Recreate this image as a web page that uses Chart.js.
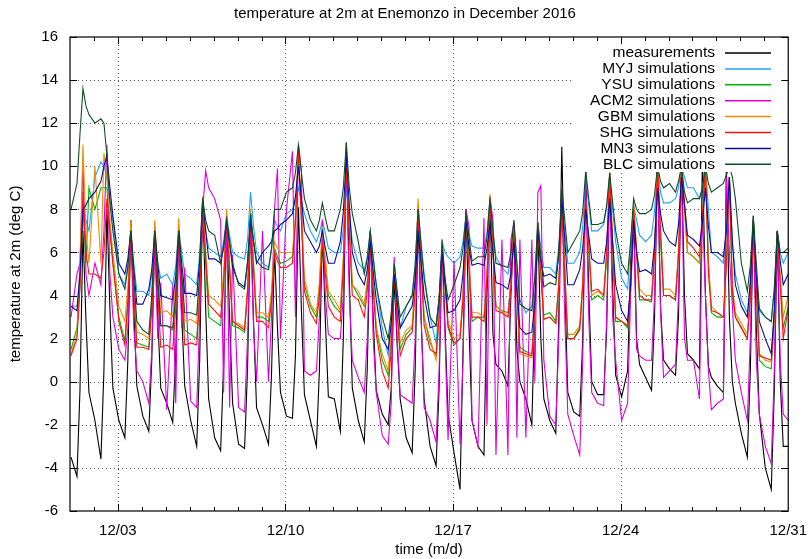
<!DOCTYPE html>
<html>
<head>
<meta charset="utf-8">
<script src="https://cdn.jsdelivr.net/npm/chart.js@4.4.1/dist/chart.umd.min.js"></script>
<style>
  html, body { margin: 0; padding: 0; background: #fff; }
  #wrap { width: 810px; height: 559px; }
</style>
</head>
<body>
<div id="wrap"><canvas id="myChart" width="810" height="559"></canvas></div>
<script>
// time axis: hours since 12/01 00:00, six samples per day
const sampleHours = [1, 7, 10, 13, 16, 19];
const xTickHours = [48, 216, 384, 552, 720];
const xTickLabels = ['12/03', '12/10', '12/17', '12/24', '12/31'];
const yTickValues = [-6, -4, -2, 0, 2, 4, 6, 8, 10, 12, 14, 16];

const seriesNames = ['measurements', 'MYJ simulations', 'YSU simulations', 'ACM2 simulations',
  'GBM simulations', 'SHG simulations', 'MN3 simulations', 'BLC simulations'];
const seriesColors = ['#000000', '#1ca3ff', '#00b400', '#dd00dd', '#f08c00', '#ff1010', '#0a0aa0', '#0d4f22'];

// values per day at 01h, 07h, 10h, 13h, 16h, 19h (12/01 ... 12/30); last value = 12/31 00h
const meas = [
  -3.5, -4.4, -0.4, 7.0, 2.9, -0.5,   -1.8, -3.6, 0.5, 8.0, 3.4, -0.3,   -1.8, -2.6, 1.0, 7.5, 3.3, -0.2,
  -1.6, -2.3, 1.0, 7.1, 3.0, -0.3,    -1.0, -1.9, 1.3, 7.1, 3.1, -0.2,   -1.8, -3.0, 1.0, 8.6, 3.4, -0.8,
  -2.6, -3.2, 0.8, 7.7, 2.9, -1.0,    -2.9, -3.1, 0.6, 7.8, 2.8, -1.2,   -2.0, -2.9, 0.3, 6.2, 2.5, -0.5,
  -1.6, -1.7, 1.2, 8.1, 3.3, -0.6,    -1.8, -3.0, 0.5, 7.0, 2.8, -0.7,   -0.8, -2.3, 2.0, 11.1, 4.8, -0.3,
  -1.8, -2.8, 0.6, 7.0, 2.9, -0.4,    -1.5, -2.0, -0.3, 4.8, 1.7, -0.8,  -2.6, -3.3, 0.5, 7.5, 2.9, -0.8,
  -3.0, -3.9, -0.3, 6.6, 2.5, -1.5,   -3.3, -5.0, 1.5, 8.0, 2.5, -1.8,   -3.0, -3.4, 4.0, 8.6, 2.2, 0.8,
  0.5, -0.2, 4.0, 7.2, 1.5, 0.0,      -0.8, -2.0, 3.5, 7.2, 2.0, -0.8,   -1.8, -2.4, 3.0, 10.9, 4.5, -0.5,
  -1.4, -1.6, 2.0, 9.8, 4.3, 0.0,     -0.6, -0.6, 2.5, 9.5, 4.4, 0.3,    -0.7, 0.5, 5.5, 8.2, 2.0, 0.8,
  0.2, -0.4, 3.0, 10.5, 3.5, 1.0,     0.6, 0.3, 3.0, 10.5, 4.0, 1.3,     1.0, 0.6, 10.5, 4.0, 0.7, 0.2,
  -0.2, -0.5, 10.0, 3.0, 0.0, -1.0,   -2.4, -3.5, 0.5, 7.7, 2.5, -1.5,   -4.0, -5.0, -0.5, 7.0, 0.0, -3.0,
  -3.0
];
const myj = [
  3.5, 3.5, 5.1, 8.0, 7.5, 7.0,    9.5, 10.2, 10.0, 9.5, 8.5, 7.5,  5.0, 4.5, 5.4, 7.0, 5.5, 4.2,
  4.2, 4.0, 5.0, 7.0, 5.5, 4.8,    5.0, 4.5, 5.4, 7.1, 6.0, 5.0,    4.8, 4.5, 5.9, 8.5, 7.0, 6.2,
  6.0, 5.8, 6.5, 7.7, 6.8, 6.0,    5.8, 5.7, 6.6, 8.8, 7.2, 6.0,    5.5, 5.3, 6.1, 7.5, 7.2, 7.0,
  7.8, 8.0, 8.4, 9.0, 8.4, 7.8,    7.0, 6.5, 6.9, 7.5, 6.9, 6.2,    6.0, 6.0, 7.1, 9.0, 7.8, 6.5,
  5.5, 5.2, 5.8, 7.0, 5.8, 4.5,    2.5, 1.2, 2.7, 5.5, 4.0, 2.5,    3.5, 4.0, 5.4, 8.0, 6.5, 5.0,
  3.0, 1.8, 3.5, 6.5, 6.0, 5.8,    5.5, 5.8, 6.5, 7.7, 6.8, 6.3,    6.2, 6.2, 6.9, 8.5, 7.0, 5.8,
  5.3, 5.0, 5.8, 7.4, 5.5, 3.8,    3.2, 3.5, 5.0, 7.4, 6.2, 5.3,    5.3, 5.0, 6.3, 8.5, 7.0, 5.5,
  5.5, 6.0, 7.2, 9.5, 8.2, 7.0,    7.0, 7.3, 8.1, 9.5, 8.0, 6.5,    4.8, 4.3, 6.5, 8.2, 7.5, 6.8,
  6.5, 6.8, 7.9, 10.0, 8.8, 8.3,   8.3, 8.5, 9.0, 10.0, 9.5, 9.0,   9.0, 8.5, 9.0, 10.0, 8.0, 6.0,
  5.8, 5.5, 7.0, 9.5, 6.5, 5.0,    3.8, 3.2, 4.7, 7.5, 5.0, 3.3,    3.0, 2.8, 4.3, 7.0, 6.0, 5.5,
  6.0
];
const ysu = [
  1.5, 2.5, 4.4, 8.0, 5.5, 9.0,    8.0, 9.0, 9.0, 9.0, 7.2, 5.5,    3.0, 1.9, 3.8, 7.2, 4.2, 1.8,
  1.7, 1.6, 3.6, 7.2, 4.5, 2.6,    2.6, 2.4, 4.0, 7.1, 4.6, 2.4,    2.2, 2.0, 4.2, 8.3, 5.5, 3.0,
  2.8, 2.6, 4.4, 7.6, 5.2, 2.6,    2.5, 2.3, 4.2, 7.8, 5.3, 3.0,    3.0, 2.8, 4.0, 6.2, 5.8, 5.5,
  5.6, 5.8, 7.4, 10.5, 7.5, 4.5,   3.5, 3.0, 4.4, 7.0, 5.5, 4.0,    3.5, 3.2, 5.5, 10.0, 7.2, 4.5,
  4.0, 3.5, 4.6, 6.5, 4.5, 2.5,    1.0, 0.3, 2.0, 5.2, 3.3, 1.5,    2.2, 2.5, 4.5, 8.2, 5.6, 3.0,
  1.8, 1.2, 3.0, 6.3, 4.5, 2.5,    1.7, 2.0, 3.8, 7.7, 5.5, 2.8,    3.0, 3.0, 5.0, 8.6, 6.0, 3.5,
  3.3, 3.2, 4.6, 7.4, 4.4, 1.6,    1.4, 1.3, 3.5, 7.4, 5.0, 3.1,    3.2, 2.8, 4.5, 8.2, 5.2, 2.0,
  2.0, 2.5, 4.5, 8.5, 6.2, 3.8,    4.0, 3.8, 5.8, 9.5, 6.2, 2.8,    2.8, 2.5, 4.5, 8.1, 6.0, 3.8,
  3.8, 3.7, 6.0, 10.0, 6.5, 4.0,   4.0, 3.8, 6.0, 10.0, 8.0, 6.0,   5.8, 5.5, 7.5, 10.0, 5.5, 3.2,
  3.0, 3.0, 5.5, 9.5, 4.0, 3.0,    2.5, 2.0, 4.0, 7.5, 4.5, 1.0,    0.7, 0.6, 2.8, 7.0, 4.5, 2.5,
  3.5
];
const acm2 = [
  3.0, 5.0, 5.5, 10.2, 5.0, 4.0,   5.5, 4.5, 7.0, 11.0, 5.0, 3.0,   1.5, 1.0, 2.5, 6.7, 2.5, 0.5,
  0.0, -1.0, 1.5, 6.5, 2.0, 4.6,   -1.3, 4.5, -1.0, 7.1, 2.5, 5.3,  -0.9, -1.2, 3.0, 8.0, 9.8, 9.0,
  8.5, 7.5, -0.5, 7.8, -1.2, 5.9,  -1.2, -1.4, 2.0, 7.5, 2.5, 0.0,  7.0, 0.0, 3.0, 8.0, 9.9, 2.0,
  8.0, 10.7, 3.0, 11.0, 9.8, 0.5,  0.3, 0.5, 3.0, 7.5, 4.0, 2.2,    2.0, 2.0, 4.0, 10.5, 4.0, 1.0,
  0.2, -0.5, 2.0, 7.0, 2.0, -0.5,  -2.5, -2.9, -1.0, 5.8, 2.0, -0.6, -0.8, -1.0, 2.0, 8.0, 3.0, -1.2,
  -1.8, -2.8, 0.5, 6.0, 2.0, -2.7, 5.6, -2.9, 1.0, 8.0, 7.2, -1.8,  -3.0, 7.6, -2.0, 8.6, 7.5, -3.4,
  6.6, -3.4, 6.6, 7.4, -2.6, 6.6,  -2.6, 6.6, 0.0, 8.8, 9.1, 1.0,   -1.6, -2.0, 2.0, 9.0, 3.0, -1.5,
  -2.5, -3.4, 1.0, 9.5, 3.0, -0.5, -1.0, -1.1, 3.0, 9.7, 3.0, 1.0,  -1.8, -1.0, 4.0, 7.4, 1.5, 1.2,
  1.0, 1.0, 4.0, 10.0, 3.3, 0.2,   0.5, 0.8, 4.0, 10.0, 2.0, 1.0,   1.0, -0.8, 8.0, 4.0, 0.5, -1.3,
  -1.0, -0.8, 9.5, 6.0, 3.5, 1.0,  -0.5, -1.8, 2.0, 7.5, 1.0, -1.5, -3.0, -3.8, 0.5, 7.0, 1.0, -1.5,
  -1.8
];
const gbm = [
  1.3, 2.2, 5.3, 11.0, 7.0, 5.5,   10.0, 5.5, 10.6, 9.5, 7.5, 6.0,  3.5, 2.8, 4.4, 7.5, 4.5, 2.3,
  2.2, 2.0, 3.9, 7.5, 5.0, 3.2,    3.3, 3.0, 4.6, 7.6, 5.0, 2.8,    2.9, 2.7, 4.8, 8.6, 6.0, 4.0,
  3.8, 3.5, 5.0, 8.0, 5.5, 2.8,    2.7, 2.5, 4.4, 8.0, 5.6, 3.2,    3.2, 3.0, 4.2, 6.5, 6.2, 6.0,
  6.0, 6.0, 7.7, 10.8, 7.8, 4.8,   3.6, 3.2, 4.6, 7.2, 5.7, 4.2,    3.8, 3.3, 5.8, 10.5, 7.5, 4.5,
  4.2, 3.6, 4.7, 6.8, 4.7, 2.5,    1.3, 0.5, 2.3, 5.5, 3.7, 1.8,    2.4, 2.6, 4.7, 8.5, 5.8, 3.0,
  2.0, 1.0, 2.9, 6.5, 4.7, 2.8,    2.0, 2.2, 4.1, 7.7, 5.6, 3.2,    3.2, 3.0, 5.0, 8.7, 6.2, 3.5,
  3.3, 3.0, 4.5, 7.2, 4.2, 1.3,    1.2, 1.1, 3.4, 7.4, 5.0, 2.9,    3.0, 2.7, 4.5, 8.2, 5.2, 2.2,
  2.2, 2.6, 4.6, 8.3, 6.2, 4.0,    4.2, 4.0, 6.0, 9.7, 6.4, 3.0,    2.8, 2.6, 4.5, 8.3, 6.2, 4.3,
  4.0, 4.0, 6.1, 10.0, 7.0, 4.3,   4.3, 4.0, 6.1, 10.0, 8.0, 6.0,   5.8, 5.5, 7.5, 10.0, 5.5, 3.5,
  3.2, 3.0, 5.5, 9.5, 4.5, 3.2,    2.7, 2.2, 4.0, 7.6, 4.6, 1.3,    1.0, 0.9, 3.0, 7.0, 5.0, 3.0,
  4.0
];
const shg = [
  1.2, 2.0, 4.4, 8.8, 6.0, 5.0,    5.0, 4.8, 6.0, 8.5, 7.0, 5.5,    2.8, 1.7, 3.6, 7.0, 4.0, 1.6,
  1.6, 1.5, 3.4, 6.8, 4.2, 1.6,    1.7, 1.5, 3.4, 7.0, 4.3, 1.7,    1.8, 1.7, 3.9, 8.0, 5.8, 3.6,
  3.3, 3.0, 4.6, 7.5, 5.2, 2.8,    2.6, 2.4, 4.2, 7.5, 5.2, 2.8,    2.8, 2.5, 3.7, 6.0, 5.6, 5.3,
  5.3, 5.5, 7.4, 10.8, 7.5, 4.2,   3.2, 2.7, 4.0, 6.5, 5.0, 3.5,    3.0, 2.8, 5.3, 10.0, 7.0, 4.0,
  3.8, 3.0, 4.2, 6.5, 4.3, 2.2,    0.5, -0.3, 1.5, 5.0, 3.1, 1.2,   2.0, 2.3, 4.1, 8.0, 5.3, 2.6,
  1.5, 1.3, 3.0, 6.3, 4.5, 2.6,    1.8, 2.0, 3.9, 7.7, 5.2, 3.0,    3.0, 2.8, 4.8, 8.5, 6.0, 3.3,
  3.2, 3.0, 4.4, 7.0, 4.2, 1.4,    1.3, 1.2, 3.3, 7.1, 5.0, 2.9,    3.0, 2.7, 4.5, 8.0, 5.0, 2.0,
  2.0, 2.4, 4.5, 8.5, 6.4, 4.2,    4.3, 4.0, 6.0, 9.7, 6.4, 3.0,    2.8, 2.6, 4.5, 8.0, 6.0, 4.0,
  3.8, 3.8, 5.9, 10.0, 7.0, 4.0,   4.0, 3.8, 5.9, 10.0, 8.3, 6.5,   6.2, 5.8, 7.5, 10.0, 5.0, 3.3,
  3.2, 3.0, 5.4, 9.5, 4.3, 3.0,    2.5, 2.0, 3.9, 7.4, 4.3, 1.2,    1.1, 1.0, 3.1, 7.0, 4.5, 2.0,
  3.4
];
const mn3 = [
  3.5, 3.3, 5.0, 8.0, 8.2, 8.5,    8.8, 9.3, 10.0, 10.5, 9.0, 7.7,  5.5, 5.0, 5.7, 7.0, 5.2, 3.6,
  3.6, 4.3, 5.2, 7.0, 5.5, 4.0,    3.9, 3.8, 4.9, 7.0, 5.5, 4.1,    4.1, 4.0, 5.6, 8.5, 7.0, 5.7,
  5.7, 5.5, 6.2, 7.5, 6.4, 5.3,    4.6, 4.4, 5.6, 7.5, 6.5, 5.5,    6.0, 6.3, 6.5, 7.0, 7.1, 7.3,
  7.5, 7.8, 8.6, 10.0, 8.5, 7.0,   6.5, 6.0, 6.3, 7.0, 6.2, 5.5,    5.5, 6.5, 7.9, 10.5, 8.2, 6.0,
  5.0, 4.5, 5.2, 6.5, 5.1, 3.8,    2.0, 1.5, 2.7, 5.0, 3.7, 2.5,    3.0, 3.5, 4.7, 7.0, 5.5, 4.0,
  2.5, 2.6, 3.8, 6.0, 4.5, 3.2,    3.3, 3.8, 5.0, 7.5, 6.2, 5.4,    5.5, 5.4, 6.2, 7.3, 6.0, 4.6,
  4.5, 4.3, 5.0, 6.5, 4.3, 2.5,    2.2, 2.3, 3.7, 7.1, 5.6, 4.9,    5.0, 4.8, 5.9, 8.5, 6.6, 4.5,
  4.5, 5.2, 6.2, 8.0, 6.8, 5.7,    5.5, 5.5, 6.5, 8.5, 6.5, 4.5,    3.3, 2.8, 4.5, 7.5, 6.0, 5.1,
  5.2, 5.0, 6.4, 9.0, 7.8, 7.0,    6.5, 6.3, 7.3, 9.5, 8.2, 6.8,    6.6, 6.3, 7.4, 9.0, 7.2, 6.0,
  6.0, 5.8, 7.0, 9.5, 6.5, 4.5,    3.5, 3.0, 4.6, 7.5, 5.0, 2.8,    2.0, 1.3, 3.3, 7.0, 5.6, 4.5,
  5.0
];
const blc = [
  8.0, 9.2, 11.5, 13.6, 12.8, 12.4, 12.0, 12.2, 12.0, 10.5, 8.3, 7.0, 5.0, 4.3, 5.3, 7.0, 4.8, 2.8,
  2.4, 2.2, 4.0, 7.0, 4.8, 2.6,    2.6, 2.5, 4.0, 7.0, 5.0, 3.2,    3.2, 3.1, 5.0, 8.5, 7.5, 7.0,
  6.8, 5.5, 6.3, 7.5, 6.5, 5.5,    4.5, 4.3, 5.5, 7.8, 6.5, 5.6,    5.3, 5.2, 6.2, 8.0, 8.0, 8.0,
  8.8, 9.0, 9.7, 11.0, 9.7, 8.5,   7.5, 7.0, 7.5, 8.3, 7.6, 7.0,    7.0, 8.0, 9.0, 11.1, 9.0, 7.8,
  6.5, 5.0, 5.7, 7.0, 5.7, 4.5,    3.0, 2.0, 3.2, 5.5, 4.2, 3.0,    3.5, 4.0, 5.4, 8.0, 6.3, 4.8,
  3.0, 2.6, 3.9, 6.5, 4.8, 3.8,    4.5, 5.3, 6.2, 7.8, 6.7, 5.6,    5.8, 5.8, 6.7, 8.5, 7.0, 5.5,
  5.4, 5.3, 6.0, 7.5, 5.5, 3.6,    3.4, 3.3, 4.8, 7.4, 5.8, 4.4,    4.6, 4.5, 6.0, 9.0, 7.5, 6.0,
  6.5, 7.0, 7.9, 9.8, 8.5, 7.3,    7.3, 7.4, 8.2, 9.7, 8.3, 7.0,    5.5, 5.0, 6.5, 8.5, 8.0, 7.8,
  7.8, 8.0, 8.7, 10.0, 9.3, 9.0,   9.2, 8.8, 9.3, 10.0, 8.8, 8.3,   8.5, 8.5, 9.0, 10.0, 9.2, 8.8,
  9.0, 9.2, 9.6, 10.0, 9.5, 8.5,   5.5, 4.2, 5.4, 7.7, 5.5, 3.4,    3.0, 2.8, 4.3, 7.0, 6.0, 6.0,
  6.2
];
const seriesValues = [meas, myj, ysu, acm2, gbm, shg, mn3, blc];

const hours = [];
for (let d = 0; d < 30; d++) {
  sampleHours.forEach(h => hours.push(d * 24 + h));
}
hours.push(720);

const FONT = '"Liberation Sans", Arial, sans-serif';
Chart.defaults.font.family = FONT;
Chart.defaults.font.size = 15;
Chart.defaults.color = '#000';

// gnuplot-ish frame, dotted grid, inward ticks, key box and titles
const gnuplotLook = {
  id: 'gnuplotLook',
  beforeDatasetsDraw(chart) {
    const {ctx, chartArea: a, scales: {x, y}} = chart;
    ctx.save();
    ctx.strokeStyle = '#555';
    ctx.lineWidth = 1;
    ctx.setLineDash([1, 3]);
    ctx.beginPath();
    yTickValues.forEach(v => {
      if (v <= -6 || v >= 16) return;
      const py = Math.round(y.getPixelForValue(v)) + 0.5;
      ctx.moveTo(a.left, py);
      ctx.lineTo(a.right, py);
    });
    xTickHours.forEach(h => {
      if (h <= 0 || h >= 720) return;
      const px = Math.round(x.getPixelForValue(h)) + 0.5;
      ctx.moveTo(px, a.top);
      ctx.lineTo(px, a.bottom);
    });
    ctx.stroke();
    ctx.restore();
  },
  afterDatasetsDraw(chart) {
    const {ctx, chartArea: a, scales: {x, y}} = chart;
    ctx.save();

    // key box (opaque, covers the lines underneath)
    const keyLeft = 572, keyBottom = 172;
    ctx.fillStyle = '#fff';
    ctx.fillRect(keyLeft, a.top, a.right - keyLeft, keyBottom - a.top);
    ctx.font = '15.5px ' + FONT;
    ctx.textAlign = 'right';
    ctx.textBaseline = 'middle';
    chart.data.datasets.forEach((ds, i) => {
      const ry = 53 + i * 15.9;
      ctx.fillStyle = '#000';
      ctx.fillText(ds.label, 715, ry);
      ctx.strokeStyle = ds.borderColor;
      ctx.lineWidth = 1.5;
      ctx.beginPath();
      ctx.moveTo(725, ry);
      ctx.lineTo(771, ry);
      ctx.stroke();
    });

    // frame
    ctx.strokeStyle = '#000';
    ctx.lineWidth = 1.2;
    ctx.strokeRect(a.left, a.top, a.right - a.left, a.bottom - a.top);

    // ticks
    ctx.lineWidth = 1;
    ctx.beginPath();
    yTickValues.forEach(v => {
      const py = Math.round(y.getPixelForValue(v)) + 0.5;
      ctx.moveTo(a.left, py); ctx.lineTo(a.left + 7, py);
      ctx.moveTo(a.right, py); ctx.lineTo(a.right - 7, py);
    });
    for (let h = 24; h < 720; h += 24) {
      const px = Math.round(x.getPixelForValue(h)) + 0.5;
      const len = xTickHours.includes(h) ? 7 : 4;
      ctx.moveTo(px, a.bottom); ctx.lineTo(px, a.bottom - len);
      ctx.moveTo(px, a.top); ctx.lineTo(px, a.top + len);
    }
    ctx.stroke();

    // titles
    ctx.font = '15px ' + FONT;
    ctx.fillStyle = '#000';
    ctx.textAlign = 'center';
    ctx.textBaseline = 'middle';
    ctx.fillText('temperature at 2m at Enemonzo in December 2016', 405, 14);
    ctx.fillText('time (m/d)', (a.left + a.right) / 2, 550);
    ctx.translate(16, (a.top + a.bottom) / 2);
    ctx.rotate(-Math.PI / 2);
    ctx.fillText('temperature at 2m (deg C)', 0, 0);
    ctx.restore();
  }
};

const ctx = document.getElementById('myChart').getContext('2d');
const datasets = seriesNames.map((name, i) => ({
  label: name,
  data: hours.map((h, k) => ({x: h, y: seriesValues[i][k]})),
  borderColor: seriesColors[i],
  backgroundColor: seriesColors[i],
  borderWidth: 1.1,
  pointRadius: 0,
  tension: 0,
  order: seriesNames.length - i   // later series drawn on top, like gnuplot
}));

const chart = new Chart(ctx, {
  type: 'line',
  data: {datasets: datasets},
  options: {
    responsive: false,
    animation: false,
    layout: {padding: {top: 37, right: 20, left: 0, bottom: 0}},
    plugins: {legend: {display: false}, tooltip: {enabled: false}, title: {display: false}},
    scales: {
      x: {
        type: 'linear',
        min: 0,
        max: 720,
        grid: {display: false},
        border: {display: false},
        afterBuildTicks: s => { s.ticks = xTickHours.map(v => ({value: v})); },
        afterFit: s => { s.height = 48; },
        ticks: {
          padding: 3,
          maxRotation: 0,
          autoSkip: false,
          callback: v => xTickLabels[xTickHours.indexOf(v)]
        }
      },
      y: {
        min: -6,
        max: 16,
        grid: {display: false},
        border: {display: false},
        afterBuildTicks: s => { s.ticks = yTickValues.map(v => ({value: v})); },
        afterFit: s => { s.width = 70; },
        ticks: {padding: 4, autoSkip: false}
      }
    }
  },
  plugins: [gnuplotLook]
});
</script>
</body>
</html>
